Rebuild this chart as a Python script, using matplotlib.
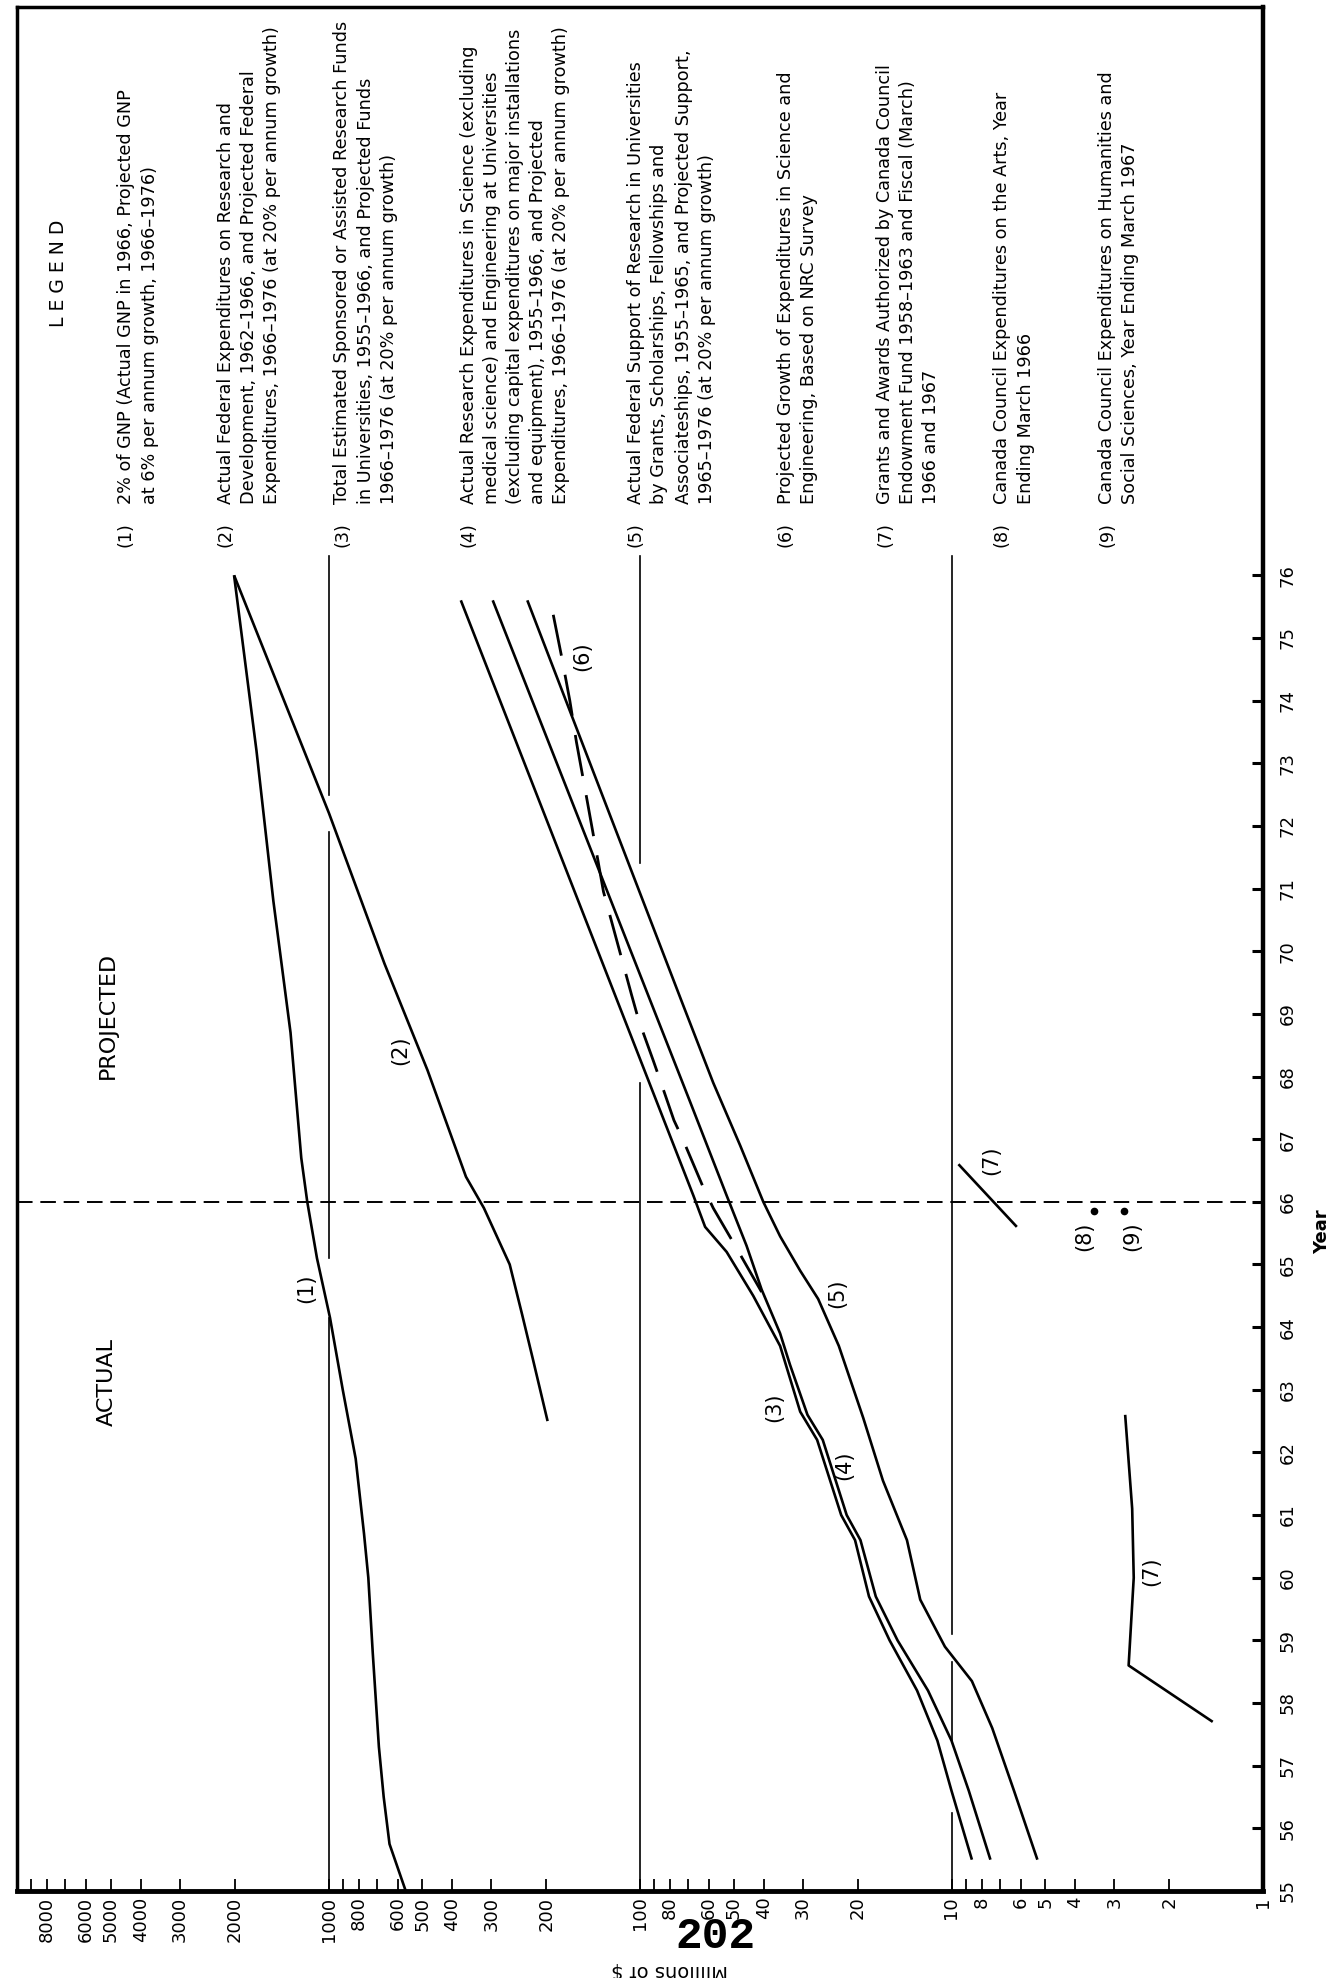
import matplotlib
matplotlib.use("Agg")
import matplotlib.pyplot as plt
from matplotlib.ticker import NullFormatter

plt.rcParams["font.family"] = ["DejaVu Sans"]

# values: year (19xx) and millions of dollars
gnp_years = [55, 55.75, 56.5, 57.3, 58.8, 60, 60.7, 61.9, 63, 64.15, 65.1, 66, 66.7, 68.7, 70.8, 73.2, 76]
gnp_vals = [565, 637, 665, 689, 721, 745, 769, 818, 900, 989, 1089, 1170, 1223, 1324, 1503, 1703, 2010]

fed_years = [62.5, 63.5, 64.2, 65.0, 65.9, 66.4, 68.1, 69.8, 72.2, 76]
fed_vals = [198, 221, 239, 262, 317, 362, 481, 661, 996, 2010]

univ_years = [55.5, 56.6, 57.4, 58.2, 59.0, 59.7, 60.6, 61.0, 62.2, 62.65, 63.7, 64.5, 65.2, 65.6, 66.1, 75.6]
univ_vals = [8.6, 10.0, 11.1, 12.9, 15.8, 18.4, 20.4, 22.6, 27.0, 30.6, 35.5, 43.3, 52.7, 61.8, 67.4, 376]

sci_years = [55.5, 56.6, 57.4, 58.2, 59.0, 59.7, 60.6, 61.0, 62.2, 62.6, 63.4, 63.9, 64.6, 65.3, 66.1, 67.6, 75.6]
sci_vals = [7.5, 8.8, 10.0, 11.9, 14.9, 17.5, 19.6, 21.7, 25.9, 29.0, 33.0, 35.5, 40.7, 45.5, 52.7, 69.1, 297]

grant_years = [55.5, 56.6, 57.6, 58.35, 58.9, 59.65, 60.6, 61.55, 62.55, 63.7, 64.45, 64.9, 65.45, 66.0, 66.9, 67.9, 69.2, 75.6]
grant_vals = [5.3, 6.3, 7.4, 8.6, 10.5, 12.6, 13.9, 16.6, 19.2, 23.0, 26.8, 30.6, 35.5, 40.2, 47.7, 58.2, 73.5, 230]

nrc_years = [64.56, 65.3, 65.9, 66.25, 67.0, 67.3, 67.95, 68.25, 68.9, 69.3, 70.95, 71.67, 72.5, 73.34, 74.0, 74.67, 75.63]
nrc_vals = [40.7, 49.5, 58.2, 62.9, 72.9, 77.8, 86.3, 90.6, 101, 106.4, 131, 139, 149, 160, 168, 178, 194.5]

council_years_a = [57.7, 58.6, 60.0, 61.1, 62.6]
council_vals_a = [1.45, 2.70, 2.60, 2.63, 2.77]
council_years_b = [65.6, 66.6]
council_vals_b = [6.17, 9.5]

arts_point = (65.85, 3.49)
hum_point = (65.85, 2.79)

value_ticks = [1, 2, 3, 4, 5, 6, 8, 10, 20, 30, 40, 50, 60, 80, 100, 200, 300, 400,
               500, 600, 800, 1000, 2000, 3000, 4000, 5000, 6000, 8000]
value_minor = [7, 9, 70, 90, 700, 900, 7000, 9000]
year_ticks = list(range(55, 77))

legend_items = [
    ("(1)", ["2% of GNP (Actual GNP in 1966, Projected GNP",
             "at 6% per annum growth, 1966–1976)"]),
    ("(2)", ["Actual Federal Expenditures on Research and",
             "Development, 1962–1966, and Projected Federal",
             "Expenditures, 1966–1976 (at 20% per annum growth)"]),
    ("(3)", ["Total Estimated Sponsored or Assisted Research Funds",
             "in Universities, 1955–1966, and Projected Funds",
             "1966–1976 (at 20% per annum growth)"]),
    ("(4)", ["Actual Research Expenditures in Science (excluding",
             "medical science) and Engineering at Universities",
             "(excluding capital expenditures on major installations",
             "and equipment), 1955–1966, and Projected",
             "Expenditures, 1966–1976 (at 20% per annum growth)"]),
    ("(5)", ["Actual Federal Support of Research in Universities",
             "by Grants, Scholarships, Fellowships and",
             "Associateships, 1955–1965, and Projected Support,",
             "1965–1976 (at 20% per annum growth)"]),
    ("(6)", ["Projected Growth of Expenditures in Science and",
             "Engineering, Based on NRC Survey"]),
    ("(7)", ["Grants and Awards Authorized by Canada Council",
             "Endowment Fund 1958–1963 and Fiscal (March)",
             "1966 and 1967"]),
    ("(8)", ["Canada Council Expenditures on the Arts, Year",
             "Ending March 1966"]),
    ("(9)", ["Canada Council Expenditures on Humanities and",
             "Social Sciences, Year Ending March 1967"]),
]

# page layout (pixels of the 1340x1978 page)
W, H = 1340, 1978
legend_cols = [[126, 150], [226, 249, 272], [342, 366, 389], [469, 492, 515, 538, 561],
               [636, 659, 684, 707], [786, 809], [885, 908, 931], [1002, 1026], [1107, 1130]]
curve_labels = [("(1)", 306, 1288), ("(2)", 400, 1050), ("(3)", 774, 1407),
                ("(4)", 844, 1465), ("(5)", 837, 1293), ("(6)", 582, 656),
                ("(7)", 991, 1160), ("(7)", 1151, 1571), ("(8)", 1084, 1236),
                ("(9)", 1132, 1236)]
grid_runs = {
    10: [(55, 56.25), (57.4, 58.65), (59.1, 76.3)],
    100: [(55, 67.9), (71.4, 76.3)],
    1000: [(55, 64.15), (65.1, 71.9), (72.5, 76.3)],
}


def page(x, y):
    return x / W, 1 - y / H


fig = plt.figure(figsize=(W / 100, H / 100), dpi=100)
ax = fig.add_axes([17 / W, 1 - 1891 / H, (1263 - 17) / W, (1891 - 7) / H])
ax.set_xscale("log")
ax.set_xlim(10000, 1)
ax.set_ylim(55, 85.07)

for side, lw in (("left", 2.5), ("top", 2.5), ("right", 3.2), ("bottom", 3.5)):
    ax.spines[side].set_linewidth(lw)

ax.set_xticks(value_ticks)
ax.set_xticklabels([str(v) for v in value_ticks], rotation=90)
ax.set_xticks(value_minor, minor=True)
ax.xaxis.set_minor_formatter(NullFormatter())
ax.tick_params(axis="x", which="both", direction="in", length=9, width=1.3,
               top=False, pad=4, labelsize=13)

ax.yaxis.tick_right()
ax.set_yticks(year_ticks)
ax.set_yticklabels([str(y) for y in year_ticks])
ax.tick_params(axis="y", which="both", direction="in", length=8, width=2.2,
               left=False, right=True, pad=11, labelsize=13, labelrotation=90)
for lbl in ax.get_yticklabels():
    lbl.set_va("center")

# decade rules, broken where curves cross them
for v, runs in grid_runs.items():
    for y0, y1 in runs:
        ax.plot([v, v], [y0, y1], color="black", lw=1.2)

ax.axhline(66, color="black", lw=1.4, linestyle=(0, (8, 4)))

line_kw = dict(color="black", lw=1.9, solid_capstyle="butt", solid_joinstyle="round")
ax.plot(gnp_vals, gnp_years, **line_kw)
ax.plot(fed_vals, fed_years, **line_kw)
ax.plot(univ_vals, univ_years, **line_kw)
ax.plot(sci_vals, sci_years, **line_kw)
ax.plot(grant_vals, grant_years, **line_kw)
ax.plot(council_vals_a, council_years_a, **line_kw)
ax.plot(council_vals_b, council_years_b, **line_kw)
ax.plot(nrc_vals, nrc_years, color="black", lw=2.0, linestyle=(0, (15, 7)))
ax.plot([arts_point[1], hum_point[1]], [arts_point[0], hum_point[0]], "o",
        color="black", ms=4.5)

# text
fig.text(*page(58, 273), "L E G E N D", rotation=90, ha="center", va="center", fontsize=13.5)
fig.text(*page(108, 1015), "PROJECTED", rotation=90, ha="center", va="center", fontsize=16)
fig.text(*page(107, 1382), "ACTUAL", rotation=90, ha="center", va="center", fontsize=16)

for (num, lines), cols in zip(legend_items, legend_cols):
    fig.text(*page(cols[0], 535), num, rotation=90, ha="center", va="center", fontsize=12.7)
    for text, x in zip(lines, cols):
        fig.text(*page(x, 504), text, rotation=90, rotation_mode="anchor",
                 ha="left", va="center", fontsize=12.7)

for text, x, y in curve_labels:
    fig.text(*page(x, y), text, rotation=90, ha="center", va="center", fontsize=15)

fig.text(*page(1322, 1232), "Year", rotation=90, ha="center", va="center",
         fontsize=13, fontweight="bold")
fig.text(*page(670, 1970), "Millions of $", rotation=180, ha="center", va="center", fontsize=14)
fig.text(*page(715, 1936), "202", ha="center", va="center", fontsize=32,
         fontweight="bold", family=["Liberation Mono", "DejaVu Sans Mono"])

fig.savefig("out.png", dpi=100, facecolor="white")
